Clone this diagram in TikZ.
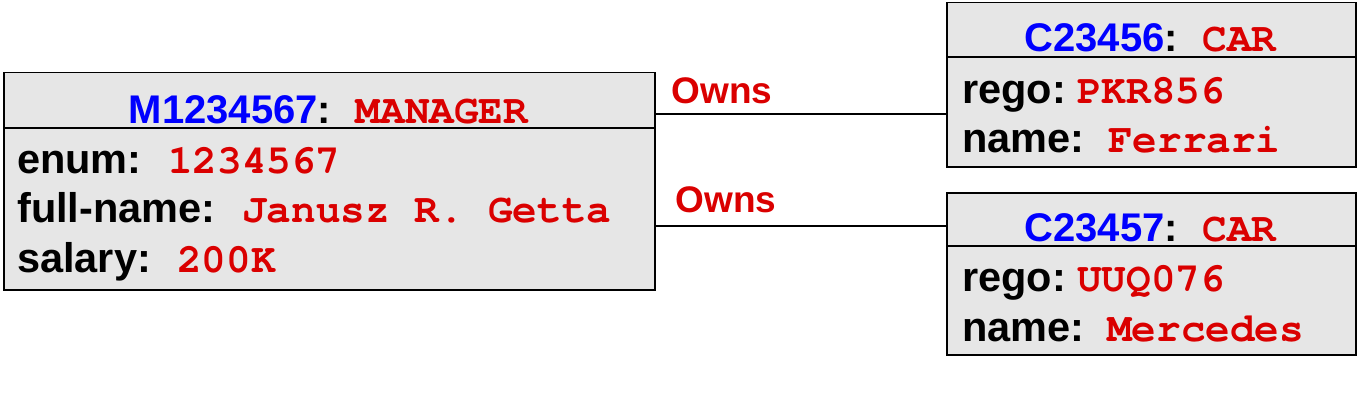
\documentclass[tikz,border=0pt]{standalone}
\usepackage{fontspec}
\setmainfont{Liberation Sans}
\newfontfamily\monofam{TeX Gyre Cursor}
\usetikzlibrary{positioning}
\definecolor{oidblue}{RGB}{0,0,255}
\definecolor{valred}{RGB}{218,0,0}
\definecolor{boxgray}{RGB}{230,230,230}
\newcommand{\oid}[1]{\textcolor{oidblue}{#1}}
\newcommand{\val}[1]{{\fontsize{41}{48}\monofam\bfseries\color{valred}#1}}

\begin{document}
\begin{tikzpicture}[x=1pt,y=-1pt,
    objbox/.style={draw, fill=boxgray, line width=1.5pt, anchor=north west, inner sep=0pt},
    objtitle/.style={anchor=base, inner sep=0pt, font=\fontsize{40}{48}\selectfont\bfseries},
    lbl/.style={anchor=base west, inner sep=0pt, font=\fontsize{41.5}{48}\selectfont\bfseries},
    valtxt/.style={anchor=base west, inner sep=0pt, text=valred, font=\fontsize{41}{48}\selectfont\monofam\bfseries},
    owns/.style={inner sep=0pt, text=valred, font=\fontsize{37}{44}\selectfont\bfseries},
    link/.style={line width=1.2pt}
]
    \useasboundingbox (0,0) rectangle (1358,412);

    % manager object
    \node[objbox, minimum width=651pt, minimum height=217pt] (mgr) at (3,72) {};
    \draw[line width=1.5pt] (mgr.west |- 0,128) -- (mgr.east |- 0,128);
    \node[objtitle] (mgrtitle) at (328.5,123) {\oid{M1234567}:\val{~MANAGER}};
    \node[lbl] (mgrenum) at (17,173) {enum:};
    \node[valtxt] (mgrenumv) at (168,173) {1234567};
    \node[lbl] (mgrname) at (17,222) {full-name:};
    \node[valtxt] (mgrnamev) at (242,222) {Janusz R. Getta};
    \node[lbl] (mgrsal) at (17,272) {salary:};
    \node[valtxt] (mgrsalv) at (177,272) {200K};

    % first car
    \node[objbox, minimum width=409pt, minimum height=164pt] (car1) at (946,2) {};
    \draw[line width=1.5pt] (car1.west |- 0,57) -- (car1.east |- 0,57);
    \node[objtitle] (car1title) at (1150.5,52) {\oid{C23456}:\val{~CAR}};
    \node[lbl] (car1rego) at (962,103) {rego:};
    \node[valtxt] (car1regov) at (1077,103) {PKR856};
    \node[lbl] (car1name) at (962,152) {name:};
    \node[valtxt] (car1namev) at (1108,152) {Ferrari};

    % second car
    \node[objbox, minimum width=409pt, minimum height=162pt] (car2) at (946,192) {};
    \draw[line width=1.5pt] (car2.west |- 0,246) -- (car2.east |- 0,246);
    \node[objtitle] (car2title) at (1150.5,241) {\oid{C23457}:\val{~CAR}};
    \node[lbl] (car2rego) at (962,291) {rego:};
    \node[valtxt] (car2regov) at (1077,291) {UUQ076};
    \node[lbl] (car2name) at (962,341) {name:};
    \node[valtxt] (car2namev) at (1107,341) {Mercedes};

    % links
    \draw[link] (mgr.east |- 0,114) -- (car1.west |- 0,114);
    \draw[link] (mgr.east |- 0,226) -- (car2.west |- 0,226);
    \node[owns] (owns1) at (722,91) {Owns};
    \node[owns] (owns2) at (726,200) {Owns};
\end{tikzpicture}
\end{document}
